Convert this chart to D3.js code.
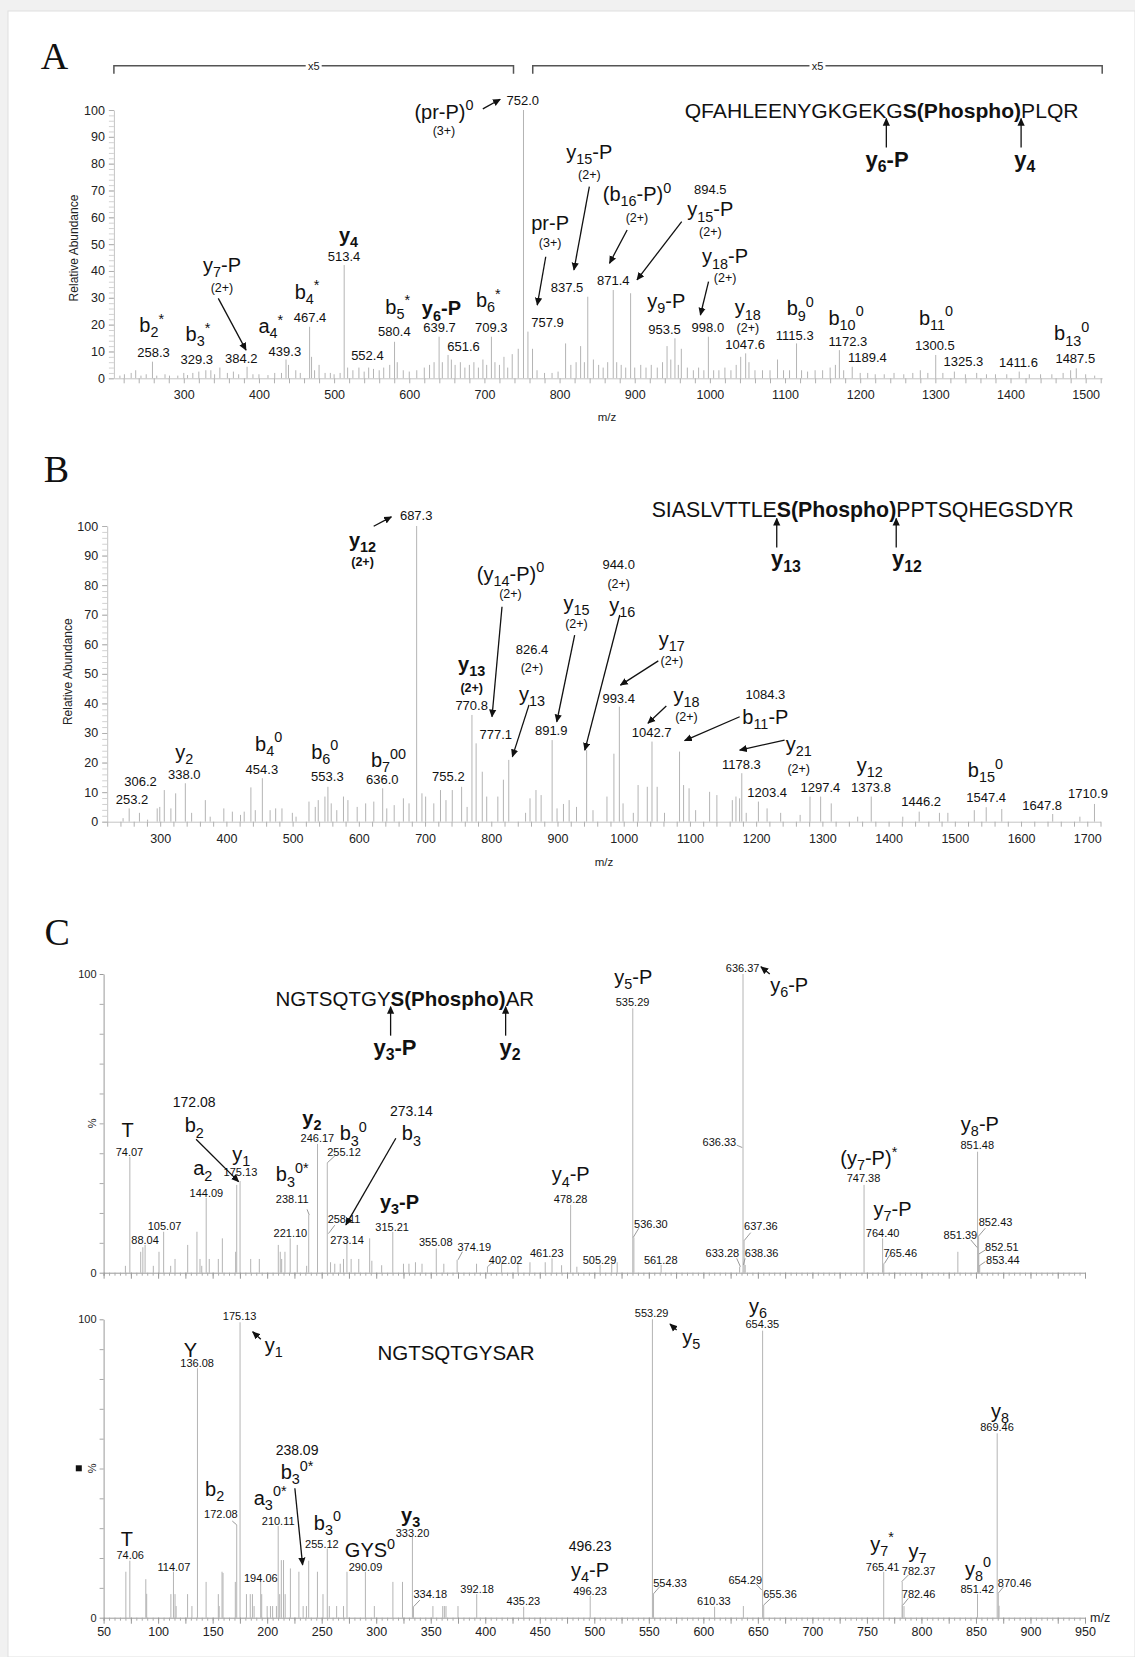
<!DOCTYPE html>
<html>
<head>
<meta charset="utf-8">
<script src="https://cdn.jsdelivr.net/npm/d3@7"></script>
<style>
  body { margin: 0; background: #fff; }
  svg text { font-family: "Liberation Sans", Arial, Helvetica, sans-serif; }
</style>
</head>
<body>
<div id="chart"></div>
<script>
// ---------- data: peaks as [m/z, relative abundance] ----------
const spectrumA = [
  [215,1],[221,1.5],[230,2],[236,3],[243,1],[250,1.5],[258.3,6.2],[264,1],[275,1.5],[281,1],[292,1],[300,2],
  [305,1.2],[312,2],[320,2.5],[329.3,3],[336,3],[341,1.5],[348,4],[358,2],[366,2.5],[373,1.5],[384.2,4.3],
  [392,1.5],[400,1.5],[412,1.2],[421,2],[430,2],[436,7],[439.3,5],[449,3],[455,2],[467.4,19.2],[470,8],
  [474,3],[480,5],[488,2],[495,2],[500,1.5],[508,2],[513.4,42.2],[518,4],[525,3],[533,4],[540,2.5],[546,4],
  [552.4,3.5],[560,3],[566,4],[574,5],[580.4,13.6],[584,6],[592,3],[600,2.5],[610,3],[620,4],[627,5],
  [633,6],[639.7,15.5],[644,6],[651.6,8.7],[656,7],[661,5],[668,6],[674,4],[680,5],[686,6],[692,4],[698,7],
  [703,5],[709.3,15.5],[714,6],[720,5],[726,8],[731,4],[737,9],[745,11],[752.0,100],[757.9,17.4],[764,11],
  [770,3],[780,2],[790,2],[798,2.5],[808,13],[815,5],[822,6],[828,12],[833,6],[837.5,30.4],[845,7],[852,5],
  [858,4],[864,6],[871.4,32.9],[876,6],[882,5],[888,4],[894.5,31.7],[900,4],[908,5],[915,4],[922,5],[930,4],
  [937,6],[943,12],[948,7],[953.5,14.9],[958,5],[962,11],[970,4],[978,3],[985,4],[992,3],[998.0,15.5],
  [1005,3],[1012,3],[1020,4],[1028,3],[1035,5],[1041,8],[1047.6,9.3],[1052,6],[1060,3],[1070,3],[1080,3],
  [1090,7],[1098,3],[1106,3],[1115.3,13],[1122,3],[1130,2.5],[1140,3],[1150,3],[1160,4],[1167,5],[1172.3,10.5],
  [1178,3],[1189.4,4.3],[1200,2],[1210,2],[1220,1.5],[1232,1.5],[1245,2],[1258,1.5],[1270,2],[1280,3],[1290,2],
  [1300.5,8.7],[1310,2],[1325.3,2.5],[1340,1.5],[1355,2],[1368,1.5],[1380,1.5],[1395,1.5],[1411.6,2.5],
  [1425,1.5],[1440,1.5],[1455,1.5],[1470,2],[1480,3],[1487.5,3.7],[1500,1.5],[1512,1]
];

const spectrumB = [
  [244,1.2],[253.2,4.5],[268.7,3],[281,0.7],[295.5,4.5],[299.4,5],[306.2,10.7],[316.2,4.5],[323.4,9.6],
  [338.0,13],[347.5,3],[368.2,7.3],[375.5,1.7],[396.1,4.5],[409,3.4],[421.3,2.3],[426.9,3.4],[437,11.6],
  [443.6,3.9],[454.3,14.7],[466,3.9],[474.4,4.5],[483.9,4.5],[499.6,3],[505.2,1.7],[524.7,6.8],[534.2,5],
  [538.7,7.3],[548.8,8.5],[553.3,11.8],[558.3,6.2],[566.7,3.9],[576.8,8.5],[583.5,7.3],[597.5,5],[610.3,6.2],
  [622.6,6.8],[636.0,11.3],[642.2,4.5],[653.4,5.6],[667.3,7.9],[675.8,6.2],[687.3,100],[695.3,9.6],[700.9,8.5],
  [713.2,6.2],[723.3,10.7],[731.6,7.3],[741.1,10.7],[755.2,11.8],[763.5,5],[770.8,36.1],[777.1,26.5],
  [786.4,16.9],[793.1,8.5],[809.9,8.5],[818.3,14.2],[826.4,20.9],[851.8,3],[858.5,7.9],[867.5,10.7],[875.3,9],
  [891.9,27.6],[899.3,4.5],[909,6],[917.6,7.3],[928.7,5],[944.0,24.2],[953.6,3.9],[974.7,8.5],[985.2,23],
  [993.4,38.9],[999,6.2],[1014.5,3],[1021.7,12.4],[1035.6,11.8],[1042.7,27.1],[1050.5,11.8],[1061.6,3],
  [1084.3,23.7],[1090.4,12.4],[1098.7,11.3],[1108.6,3.9],[1129.7,10.1],[1140.7,9],[1164,7.3],[1169.5,8.5],
  [1175,7.9],[1178.3,16.4],[1185,3],[1203.4,6.8],[1216.5,4.5],[1237,3],[1266.4,2.3],[1281.3,8.5],[1297.4,8.5],
  [1313.4,6.2],[1353.3,1.7],[1373.8,8.5],[1421.4,1.7],[1446.2,3.4],[1476.8,3],[1489.5,3],[1529.4,3.9],
  [1547.4,4.9],[1570.9,4.3],[1647.8,2.6],[1688.9,1.7],[1710.9,6]
];

const spectrumCtop = [
  [70,2.3],[74.07,38.8],[84,7],[86,8.5],[88.04,9.3],[95.6,2.3],[100.8,7],[105.07,13.7],[111.5,2.3],[115.5,4.6],
  [127.1,9.3],[135.6,13.7],[138.4,4.6],[140,2.3],[144.09,25.1],[146.9,4.6],[155.2,4.6],[158.9,11.5],[171.1,7],
  [172.08,29.4],[175.13,30.7],[184.9,4.6],[192.8,4.6],[210.2,9.3],[212,7],[213.3,4.6],[216.3,7],[221.1,11.5],
  [227.6,9.3],[236.2,2.3],[238.11,19.3],[246.17,43.1],[255.12,36.8],[258.11,3.5],[262,3],[267,3],[270,4.6],
  [273.14,10.9],[277,4.6],[284,4.6],[294,11.5],[296,4],[305,2.5],[315.21,13.7],[325,3],[330,3],[336,3.5],
  [342,3],[355.08,8.1],[362,3],[374.19,4.3],[392,3],[402.02,2],[415,3],[430,3],[441,3.5],[455,3.5],[461.23,4.8],
  [470,2.5],[478.28,22.7],[484,2],[505.29,2.6],[516,3],[521,3.5],[535.29,88.5],[536.30,11.8],[561.28,2.6],
  [633.28,2],[636.37,100],[637.36,10.7],[638.36,2.6],[747.38,29.4],[764.40,11.5],[765.46,3.1],[833.4,7],
  [851.48,40.5],[852.43,12],[852.51,6.3],[853.44,2.3]
];

const spectrumCbottom = [
  [70.4,15.4],[74.06,19.1],[88.7,12.9],[89.5,8],[111.7,7.9],[114.07,15.4],[115.5,7.9],[116.5,3.9],[127,7.9],
  [131,3.9],[136.08,83.6],[144,12],[155.2,7.9],[156,3.9],[158.6,15.4],[159.5,15],[170.8,12],[172.08,31.1],
  [175.13,99],[181,7.9],[184.5,7.9],[186.5,7.9],[188,3.9],[194.06,12],[195,7.9],[200,3.9],[203,3.9],[205,3.9],
  [208.5,3.9],[210.11,30.7],[211.5,7.9],[213,19.3],[215,19.3],[216.5,7.9],[221.3,16.5],[229.1,15.4],[233,3.9],
  [236,3.9],[238.09,19.1],[246.1,15.4],[251.2,7.9],[255.12,23.2],[257,3.9],[263.7,3.9],[270,3.9],[273.2,15.4],
  [290.09,15.4],[298.3,3.9],[315.3,12],[324.1,12],[333.20,27.2],[334.18,3.7],[352,3.9],[361,3.9],[362.5,3.9],
  [364,3.9],[375,3.9],[392.18,7.9],[435.23,3.7],[496.23,7.3],[553.29,100],[554.33,8],[610.33,3.7],[636.7,3.9],
  [654.35,96.2],[655.36,4.3],[765.41,15.4],[782.37,12.1],[782.46,4.3],[784,3.9],[851.42,7.9],[869.46,61.8],
  [870.46,8.2],[871.2,4]
];

// ---------- annotations: [m/z, abundance, text, kind] ----------
const labelsA = [
  [257.3,19.9,"b_{2}^{*}","ion"],[259.7,9.5,"258.3","num"],[318.8,16.5,"b_{3}^{*}","ion"],[317.3,7.1,"329.3","num"],
  [350.8,42.2,"y_{7}-P","ion"],[350.8,33.9,"(2+)","chg"],[376.4,7.5,"384.2","num"],[415.8,19.5,"a_{4}^{*}","ion"],
  [434.5,9.9,"439.3","num"],[464,32.3,"b_{4}^{*}","ion"],[468,22.7,"467.4","num"],[519.2,53.4,"y_{4}","ionb"],
  [513.2,45.3,"513.4","num"],[544.3,8.7,"552.4","num"],[584.6,26.7,"b_{5}^{*}","ion"],[580.2,17.4,"580.4","num"],
  [642.8,26.1,"y_{6}-P","ionb"],[640.3,18.9,"639.7","num"],[672.3,12,"651.6","num"],[705.2,29.2,"b_{6}^{*}","ion"],
  [709.2,18.9,"709.3","num"],[646.2,99.4,"(pr-P)^{0}","ion"],[646.2,92.5,"(3+)","chg"],[751,103.5,"752.0","num"],
  [787.4,58,"pr-P","ion"],[787.4,50.7,"(3+)","chg"],[784,20.7,"757.9","num"],[839.6,84.5,"y_{15}-P","ion"],
  [839.6,76.1,"(2+)","chg"],[810,34,"837.5","num"],[903,68.8,"(b_{16}-P)^{0}","ion"],[903,59.9,"(2+)","chg"],
  [871.4,36.4,"871.4","num"],[1000.6,70.5,"894.5","num"],[1000.6,63,"y_{15}-P","ion"],[1000.6,54.6,"(2+)","chg"],
  [1020.2,45.5,"y_{18}-P","ion"],[1020.2,37.6,"(2+)","chg"],[997.3,18.9,"998.0","num"],[942,28.9,"y_{9}-P","ion"],
  [939.7,18.4,"953.5","num"],[1050.5,26.5,"y_{18}","ion"],[1050.5,19,"(2+)","chg"],[1047,12.8,"1047.6","num"],
  [1120.2,26.1,"b_{9}^{0}","ion"],[1112.9,16.1,"1115.3","num"],[1181.2,22.7,"b_{10}^{0}","ion"],
  [1183.7,13.9,"1172.3","num"],[1209.5,7.7,"1189.4","num"],[1300.8,22.7,"b_{11}^{0}","ion"],
  [1299.3,12.4,"1300.5","num"],[1337.4,6.2,"1325.3","num"],[1410.6,6,"1411.6","num"],
  [1481.4,16.8,"b_{13}^{0}","ion"],[1486.2,7.5,"1487.5","num"]
];
const arrowsA = [
  [345.9,29.8,382.8,10.5],[697.9,100.4,721,104],[781.6,45.3,770.3,27.3],[839.6,71.4,819.1,40.4],
  [889.9,55.3,866.5,42.9],[962.5,58.4,903,36.7],[998.2,36,987.4,23.6]
];
const bracketsA = [[207,738.7,"x5"],[764.3,1522,"x5"]];
const seqA = "QFAHLEENYGKGEKG**S(Phospho)**PLQR";
const cutsA = [[14,"y_{6}-P",0.7],[25,"y_{4}",3.7]];

const labelsB = [
  [605.6,95.3,"y_{12}","ionb"],[605.6,87.9,"(2+)","chgb"],[686.6,103.7,"687.3","num"],
  [829,84,"(y_{14}-P)^{0}","ion"],[829,77.2,"(2+)","chg"],[770.4,53.5,"y_{13}","ionb"],[770.4,45.5,"(2+)","chgb"],
  [770.4,39.5,"770.8","num"],[806.7,29.7,"777.1","num"],[861.5,58.3,"826.4","num"],[861.5,52.2,"(2+)","chg"],
  [861.5,43.3,"y_{13}","ion"],[928.7,74,"y_{15}","ion"],[928.7,66.9,"(2+)","chg"],[890.5,30.8,"891.9","num"],
  [336.3,23.6,"y_{2}","ion"],[336.3,16.1,"338.0","num"],[270.4,13.5,"306.2","num"],[257.6,7.6,"253.2","num"],
  [463.7,26.5,"b_{4}^{0}","ion"],[453.6,17.7,"454.3","num"],[548.6,23.7,"b_{6}^{0}","ion"],[552.5,15.2,"553.3","num"],
  [644.8,20.9,"b_{7}^{00}","ion"],[635.3,14.4,"636.0","num"],[735.2,15.2,"755.2","num"],[992.4,87,"944.0","num"],
  [992.4,80.6,"(2+)","chg"],[997.8,73.3,"y_{16}","ion"],[1072.6,62,"y_{17}","ion"],[1072.6,54.4,"(2+)","chg"],
  [992.4,41.7,"993.4","num"],[1094.8,43,"y_{18}","ion"],[1094.8,35.5,"(2+)","chg"],[1042.2,30.1,"1042.7","num"],
  [1213.9,43.2,"1084.3","num"],[1213.9,35.5,"b_{11}-P","ion"],[1264.3,26.5,"y_{21}","ion"],[1264.3,18.1,"(2+)","chg"],
  [1177.8,19.4,"1178.3","num"],[1216.6,9.9,"1203.4","num"],[1297,11.6,"1297.4","num"],[1371.7,19.2,"y_{12}","ion"],
  [1373.4,11.6,"1373.8","num"],[1449.2,6.8,"1446.2","num"],[1546.2,17.5,"b_{15}^{0}","ion"],
  [1547.3,8.3,"1547.4","num"],[1631.9,5.6,"1647.8","num"],[1701.1,9.6,"1710.9","num"]
];
const arrowsB = [
  [622.4,99.9,649.1,103.1],[816.2,72.7,801.1,35.5],[857,39.5,831.9,22],[925.9,63.1,898.9,33.8],
  [994,69.9,941.3,24.2],[1052.2,54.4,995.1,46.2],[1064.3,39.1,1036.6,33.3],[1175.1,35.5,1092,27.4],
  [1242.9,27.6,1175.2,24.2]
];
const seqB = "SIASLVTTLE**S(Phospho)**PPTSQHEGSDYR";
const cutsB = [[10,"y_{13}",9.1],[20,"y_{12}",10.6]];

const labelsCtop = [
  [72,47.8,"T","cion"],[73.7,40.5,"74.07","cnum"],[133.1,57.2,"172.08","cbig"],[133.1,49.4,"b_{2}","cion"],
  [176.2,39.9,"y_{1}","cion"],[175.5,33.8,"175.13","cnum"],[140.9,35,"a_{2}","cion"],[144.3,26.8,"144.09","cnum"],
  [105.9,15.6,"105.07","cnum"],[88,10.9,"88.04","cnum"],[241,52,"y_{2}","cionb"],[246.1,45,"246.17","cnum"],
  [279,46.7,"b_{3}^{0}","cion"],[270.5,40.5,"255.12","cnum"],[223,33,"b_{3}^{0*}","cion"],[223,24.7,"238.11","cnum"],
  [221.3,13.2,"221.10","cnum"],[332.3,54.1,"273.14","cbig"],[332.3,46.7,"b_{3}","cion"],[270.5,17.9,"258.11","cnum"],
  [273.2,10.9,"273.14","cnum"],[321.4,23.8,"y_{3}-P","cionb"],[314.6,15.4,"315.21","cnum"],[354.6,10.2,"355.08","cnum"],
  [389.9,8.7,"374.19","cnum"],[418.7,4.3,"402.02","cnum"],[456.4,6.5,"461.23","cnum"],[478.3,33,"y_{4}-P","cion"],
  [478.3,24.5,"478.28","cnum"],[535.7,99.1,"y_{5}-P","cion"],[535.1,90.5,"535.29","cnum"],[636,101.9,"636.37","cnum"],
  [678.7,96.3,"y_{6}-P","cion"],[614.7,43.9,"636.33","cnum"],[551.9,16.2,"536.30","cnum"],[504.8,4.3,"505.29","cnum"],
  [560.9,4.3,"561.28","cnum"],[617.5,6.5,"633.28","cnum"],[653.5,6.5,"638.36","cnum"],[652.8,15.6,"637.36","cnum"],
  [751.7,38.5,"(y_{7}-P)^{*}","cion"],[746.9,31.6,"747.38","cnum"],[773.5,21.3,"y_{7}-P","cion"],[764.4,13.4,"764.40","cnum"],
  [780.6,6.7,"765.46","cnum"],[853.6,50,"y_{8}-P","cion"],[851.2,42.8,"851.48","cnum"],[868,17.1,"852.43","cnum"],
  [835.7,12.6,"851.39","cnum"],[873.8,8.7,"852.51","cnum"],[874.7,4.3,"853.44","cnum"]
];
const arrowsCtop = [[134.8,44.7,173.8,30.5],[318,45,272.2,16],[660.9,100,652.8,102.4]];
const leadersCtop = [
  [262,39.1,255.2,36.8],[236.6,21.2,238.6,19.3],[262,15.9,256.2,13.1],[379,7,375,4.3],[407.9,3.9,402.1,2],
  [540.8,14.9,535.7,11.8],[643.4,13.4,637.3,10.7],[638.3,4.8,636.7,2.6],[630.6,4.8,634,2],[630.6,42.7,635.7,41.9],
  [771.1,6,766.1,3.1],[858.6,14.9,851.8,12],[845.2,11,851.2,8.4],[858.6,7.6,852.8,6.3],[858.6,3.7,853,2.3]
];
const seqCtop = "NGTSQTGY**S(Phospho)**AR";
const cutsCtop = [[8,"y_{3}-P",4.4],[18,"y_{2}",4.4]];

const labelsCbottom = [
  [174.8,101.1,"175.13","cnum"],[206.1,91.4,"y_{1}","cion"],[129.7,89.7,"Y","cion"],[135.8,85.5,"136.08","cnum"],
  [227.4,56.2,"238.09","cbig"],[227.4,48.9,"b_{3}^{0*}","cion"],[151.8,43.2,"b_{2}","cion"],[157.6,34.8,"172.08","cnum"],
  [202.7,40.3,"a_{3}^{0*}","cion"],[210.1,32.5,"210.11","cnum"],[255.2,31.9,"b_{3}^{0}","cion"],[250.2,24.7,"255.12","cnum"],
  [294.3,22.7,"GYS^{0}","cion"],[290.2,17.1,"290.09","cnum"],[331.6,34.5,"y_{3}","cionb"],[333.3,28.5,"333.20","cnum"],
  [71.4,26.3,"T","cion"],[74.4,21,"74.06","cnum"],[114.5,16.9,"114.07","cnum"],[194.2,13.2,"194.06","cnum"],
  [349.6,7.9,"334.18","cnum"],[392.6,9.5,"392.18","cnum"],[435,5.7,"435.23","cnum"],[496.1,24,"496.23","cbig"],
  [496.1,16.2,"y_{4}-P","cion"],[496.1,9,"496.23","cnum"],[552.6,102.2,"553.29","cnum"],[588.9,94.2,"y_{5}","cion"],
  [650.1,104.5,"y_{6}","cion"],[654.1,98.3,"654.35","cnum"],[872,69.5,"y_{8}","cion"],[869.3,64,"869.46","cnum"],
  [569.4,11.7,"554.33","cnum"],[609.7,5.7,"610.33","cnum"],[638.4,12.6,"654.29","cnum"],[670.3,7.9,"655.36","cnum"],
  [763.8,24.9,"y_{7}^{*}","cion"],[764.4,17.1,"765.41","cnum"],[796.4,22.4,"y_{7}","cion"],[797.4,15.6,"782.37","cnum"],
  [797.4,7.9,"782.46","cnum"],[851.8,16.5,"y_{8}^{0}","cion"],[851.2,9.5,"851.42","cnum"],[885.5,11.7,"870.46","cnum"]
];
const arrowsCbottom = [[225.4,43.4,232.5,17.7],[194.2,93.3,186.7,95.8],[575.5,96.4,569.4,98.4]];
const leadersCbottom = [
  [168,32.4,172.1,31.1],[340,5.9,334.3,3.7],[560,10.4,554.3,8],[648.4,11.3,653.5,9.3],[661.9,6.5,655.5,4.3],
  [788,14.3,782,12.1],[788,6.5,783.2,4.3],[875.4,10.4,870.4,8.2]
];
const seqCbottom = "NGTSQTGYSAR";

// ---------- drawing ----------
const W = 1135, H = 1657;
const sizes = { ion: 20, ionb: 20, num: 13, chg: 12.5, chgb: 12.5, cion: 20, cionb: 20, cnum: 11, cbig: 14 };
const bolds = { ionb: 1, chgb: 1, cionb: 1 };

const svg = d3.select("#chart").append("svg").attr("width", W).attr("height", H);
svg.append("rect").attr("width", W).attr("height", H).attr("fill", "#f1f1f1");
svg.append("rect").attr("x", 8).attr("y", 11).attr("width", W - 8).attr("height", H - 11)
  .attr("fill", "#fff").attr("stroke", "#e0e0e0");

svg.append("defs").append("marker").attr("id", "ah")
  .attr("viewBox", "0 0 10 10").attr("refX", 9).attr("refY", 5)
  .attr("markerWidth", 8).attr("markerHeight", 8).attr("markerUnits", "userSpaceOnUse")
  .attr("orient", "auto")
  .append("path").attr("d", "M0,0.5 L10,5 L0,9.5 z").attr("fill", "#111");

// text with _{sub}, ^{sup} and **bold** markup
function rich(g, str, x, y, size, anchor, bold) {
  const t = g.append("text").attr("x", x).attr("y", y).attr("font-size", size)
    .attr("text-anchor", anchor || "middle").attr("fill", "#111")
    .attr("font-weight", bold ? "bold" : null);
  const parts = str.split(/(_\{[^}]*\}|\^\{[^}]*\}|\*\*[^*]+\*\*)/).filter(s => s.length);
  let shift = 0;
  parts.forEach(p => {
    let txt = p, off = 0, fs = size, b = null;
    if (p.startsWith("_{")) { txt = p.slice(2, -1); off = 0.26 * size; fs = 0.72 * size; }
    else if (p.startsWith("^{")) { txt = p.slice(2, -1); off = -0.42 * size; fs = 0.72 * size; }
    else if (p.startsWith("**")) { txt = p.slice(2, -2); b = "bold"; }
    t.append("tspan").attr("dy", off - shift).attr("font-size", fs).attr("font-weight", b).text(txt);
    shift = off;
  });
  return t;
}

function drawPanel(p) {
  const g = svg.append("g");
  const x = d3.scaleLinear().domain(p.xDomain).range(p.xRange);
  const y = d3.scaleLinear().domain([0, 100]).range(p.yRange);
  const x0 = p.xRange[0], y0 = p.yRange[0];

  // peaks
  g.append("g").selectAll("line").data(p.peaks).join("line")
    .attr("x1", d => x(d[0])).attr("x2", d => x(d[0]))
    .attr("y1", y0).attr("y2", d => y(d[1]))
    .attr("stroke", "#b4b4b4").attr("stroke-width", 1);

  // axes
  if (p.kind === "ab") {
    g.append("g").attr("transform", `translate(${x0},0)`)
      .call(d3.axisLeft(y).tickValues(d3.range(0, 101, 2)).tickSize(5).tickFormat(""))
      .call(s => s.select(".domain").remove())
      .call(s => s.selectAll("line").attr("stroke", "#d2d2d2"));
    g.append("g").attr("transform", `translate(${x0},0)`)
      .call(d3.axisLeft(y).tickValues(d3.range(0, 101, 10)).tickSize(5).tickSizeOuter(0).tickPadding(4))
      .call(s => s.select(".domain").attr("stroke", "#c4c4c4"))
      .call(s => s.selectAll("line").attr("stroke", "#b0b0b0"))
      .call(s => s.selectAll("text").attr("font-size", 12.5).attr("fill", "#222"));
    g.append("g").attr("transform", `translate(0,${y0})`)
      .call(d3.axisBottom(x).tickValues(p.xTicks).tickSize(5).tickSizeOuter(0).tickPadding(7)
        .tickFormat(d => (d % 100 === 0 && d >= p.xLabelMin) ? d : ""))
      .call(s => s.select(".domain").attr("stroke", "#c4c4c4"))
      .call(s => s.selectAll("line").attr("stroke", "#b0b0b0"))
      .call(s => s.selectAll("text").attr("font-size", 12.5).attr("fill", "#222"));
    g.append("text").attr("transform", `translate(${p.yTitle[0]},${p.yTitle[1]}) rotate(-90)`)
      .attr("text-anchor", "middle").attr("font-size", 12).attr("fill", "#222").text("Relative Abundance");
    g.append("text").attr("x", p.mzPos[0]).attr("y", p.mzPos[1]).attr("text-anchor", "middle")
      .attr("font-size", 11.5).attr("fill", "#222").text("m/z");
  } else {
    g.append("g").attr("transform", `translate(${x0},0)`)
      .call(d3.axisLeft(y).tickValues(d3.range(10, 100, 10)).tickSize(4).tickFormat(""))
      .call(s => s.select(".domain").remove())
      .call(s => s.selectAll("line").attr("stroke", "#aaa"));
    g.append("g").attr("transform", `translate(${x0},0)`)
      .call(d3.axisLeft(y).tickValues([0, 100]).tickSize(4).tickSizeOuter(0).tickPadding(3))
      .call(s => s.select(".domain").attr("stroke", "#999"))
      .call(s => s.selectAll("line").attr("stroke", "#999"))
      .call(s => s.selectAll("text").attr("font-size", 11).attr("fill", "#222"));
    g.append("g").attr("transform", `translate(0,${y0})`)
      .call(d3.axisBottom(x).tickValues(d3.range(50, 951, 5)).tickSize(3).tickFormat(""))
      .call(s => s.select(".domain").attr("stroke", "#999"))
      .call(s => s.selectAll("line").attr("stroke", "#aaa"));
    g.append("g").attr("transform", `translate(0,${y0})`)
      .call(d3.axisBottom(x).tickValues(d3.range(50, 951, 25)).tickSize(6).tickSizeOuter(0).tickPadding(3)
        .tickFormat(d => (p.xLabels && d % 50 === 0) ? d : ""))
      .call(s => s.select(".domain").remove())
      .call(s => s.selectAll("line").attr("stroke", "#999"))
      .call(s => s.selectAll("text").attr("font-size", 12.5).attr("fill", "#222"));
    g.append("text").attr("transform", `translate(${p.pctPos[0]},${p.pctPos[1]}) rotate(-90)`)
      .attr("text-anchor", "middle").attr("font-size", 11).attr("fill", "#222").text("%");
    if (p.square) {
      g.append("rect").attr("x", p.square[0] - 3).attr("y", p.square[1] - 3).attr("width", 6).attr("height", 6).attr("fill", "#111");
    }
    if (p.mzPos) {
      g.append("text").attr("x", p.mzPos[0]).attr("y", p.mzPos[1]).attr("font-size", 12.5).attr("fill", "#222").text("m/z");
    }
  }

  // panel letter
  g.append("text").attr("x", p.letterPos[0]).attr("y", p.letterPos[1])
    .style("font-family", "'Liberation Serif','Times New Roman',serif").attr("font-size", 38).attr("fill", "#111")
    .text(p.letter);

  // brackets
  (p.brackets || []).forEach(b => {
    const by = y(116.5), xa = x(b[0]), xb = x(b[1]), xm = (xa + xb) / 2;
    g.append("path").attr("d", `M${xa},${by + 8}V${by}H${xm - 8}M${xm + 8},${by}H${xb}V${by + 8}`)
      .attr("fill", "none").attr("stroke", "#555").attr("stroke-width", 1.5);
    g.append("text").attr("x", xm).attr("y", by + 4).attr("text-anchor", "middle")
      .attr("font-size", 11).attr("fill", "#222").text(b[2]);
  });

  // leader lines
  g.append("g").selectAll("line").data(p.leaders || []).join("line")
    .attr("x1", d => x(d[0])).attr("y1", d => y(d[1])).attr("x2", d => x(d[2])).attr("y2", d => y(d[3]))
    .attr("stroke", "#9a9a9a").attr("stroke-width", 1);

  // arrows
  g.append("g").selectAll("line").data(p.arrows).join("line")
    .attr("x1", d => x(d[0])).attr("y1", d => y(d[1])).attr("x2", d => x(d[2])).attr("y2", d => y(d[3]))
    .attr("stroke", "#111").attr("stroke-width", 1.3).attr("marker-end", "url(#ah)");

  // labels
  p.labels.forEach(l => {
    const fs = sizes[l[3]];
    rich(g, l[2], x(l[0]), y(l[1]) + 0.36 * fs, fs, "middle", bolds[l[3]]);
  });

  // peptide sequence with cleavage arrows
  if (p.seq) {
    const sx = x(p.seq.m), sy = y(p.seq.v);
    const t = rich(g, p.seq.s, sx, sy, p.seq.fs, "start", false);
    (p.seq.cuts || []).forEach(c => {
      const cx = t.node().getStartPositionOfChar(c[0]).x;
      g.append("line").attr("x1", cx).attr("x2", cx).attr("y1", sy + 30).attr("y2", sy + 1)
        .attr("stroke", "#111").attr("stroke-width", 1.3).attr("marker-end", "url(#ah)");
      rich(g, c[1], cx + c[2], sy + 49, 22, "middle", true);
    });
  }
}

const panels = [
  { kind: "ab", letter: "A", letterPos: [40.7, 69], peaks: spectrumA, labels: labelsA, arrows: arrowsA,
    brackets: bracketsA, xDomain: [207, 1522], xRange: [113.9, 1102.2], yRange: [378.3, 110],
    xTicks: d3.range(220, 1521, 20), xLabelMin: 300, yTitle: [78, 248], mzPos: [607, 421],
    seq: { s: seqA, m: 966.5, v: 97.2, fs: 21.1, cuts: cutsA } },
  { kind: "ab", letter: "B", letterPos: [43.7, 481.7], peaks: spectrumB, labels: labelsB, arrows: arrowsB,
    xDomain: [220, 1720], xRange: [107.2, 1100.5], yRange: [821.7, 526],
    xTicks: d3.range(220, 1721, 20), xLabelMin: 300, yTitle: [71.5, 671.7], mzPos: [604, 866],
    seq: { s: seqB, m: 1042.2, v: 102.9, fs: 21.3, cuts: cutsB } },
  { kind: "c", letter: "C", letterPos: [44.4, 945], peaks: spectrumCtop, labels: labelsCtop, arrows: arrowsCtop,
    leaders: leadersCtop, xDomain: [50, 950], xRange: [103.6, 1085], yRange: [1272.7, 974],
    pctPos: [96, 1123.3], seq: { s: seqCtop, m: 207.7, v: 89.4, fs: 20.5, cuts: cutsCtop } },
  { kind: "c", letter: "", letterPos: [0, 0], peaks: spectrumCbottom, labels: labelsCbottom, arrows: arrowsCbottom,
    leaders: leadersCbottom, xDomain: [50, 950], xRange: [103.6, 1085], yRange: [1617.7, 1319.3],
    pctPos: [96, 1468.3], square: [78.8, 1468.3], xLabels: true, mzPos: [1090, 1622],
    seq: { s: seqCbottom, m: 301.1, v: 86.3, fs: 20.5, cuts: [] } }
];

panels.forEach(drawPanel);
</script>
</body>
</html>
